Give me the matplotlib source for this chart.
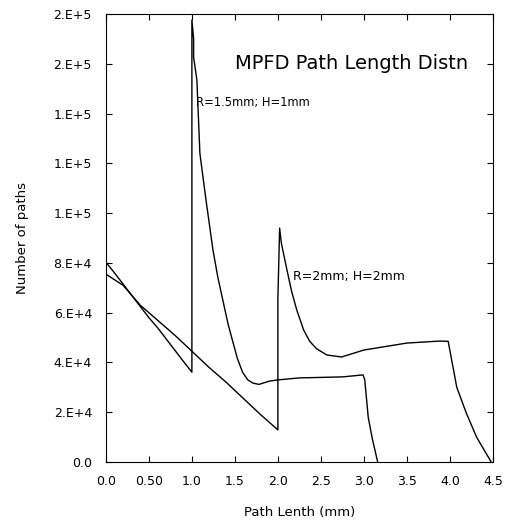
import matplotlib
matplotlib.use("Agg")
import matplotlib.pyplot as plt
from matplotlib.ticker import FixedLocator, FixedFormatter

# R=1.5mm; H=1mm
x_small = [0.0, 0.1, 0.2, 0.3, 0.4, 0.5, 0.6, 0.7, 0.8, 0.9, 1.0,
           1.0, 1.02, 1.02, 1.058, 1.093, 1.163, 1.245, 1.3, 1.36, 1.42, 1.48,
           1.53, 1.59, 1.65, 1.71, 1.78, 1.9, 2.0, 2.25, 2.5, 2.75, 2.99, 3.01,
           3.05, 3.1, 3.16]
y_small = [80300, 76000, 71500, 67000, 62500, 58000, 54000, 49500, 45000, 40500, 36100,
           177600, 170000, 162700, 153500, 124000, 105500, 85200, 74500, 65000, 55500, 47800,
           41500, 36000, 33000, 31700, 31200, 32500, 33000, 33800, 34000, 34200, 35000, 33000,
           18000, 9000, 0]

# R=2mm; H=2mm
x_big = [0.0, 0.2, 0.4, 0.6, 0.8, 1.0, 1.2, 1.4, 1.6, 1.8, 2.0,
         2.0, 2.02, 2.04, 2.10, 2.16, 2.22, 2.3, 2.37, 2.45, 2.57, 2.74, 3.0, 3.5,
         3.88, 3.98, 4.02, 4.08, 4.19, 4.31, 4.48]
y_big = [75500, 71000, 63000, 57000, 51000, 44500, 38000, 32000, 25500, 19000, 12900,
         65900, 94000, 88000, 78000, 68500, 61000, 53000, 48500, 45500, 43000, 42200, 45000, 47800,
         48600, 48500, 41000, 30000, 19700, 10000, 0]

x_ticks = [0.0, 0.5, 1.0, 1.5, 2.0, 2.5, 3.0, 3.5, 4.0, 4.5]
x_labels = ["0.0", "0.50", "1.0", "1.5", "2.0", "2.5", "3.0", "3.5", "4.0", "4.5"]
y_ticks = [0, 20000, 40000, 60000, 80000, 100000, 120000, 140000, 160000, 180000]
y_labels = ["0.0", "2.E+4", "4.E+4", "6.E+4", "8.E+4", "1.E+5", "1.E+5", "1.E+5", "2.E+5", "2.E+5"]

fig = plt.figure(figsize=(5.14, 5.2), dpi=100)
ax = fig.add_axes([0.206, 0.1115, 0.753, 0.8615])

ax.plot(x_small, y_small, color="black", lw=1.0)
ax.plot(x_big, y_big, color="black", lw=1.0)

ax.set_xlim(0, 4.5)
ax.set_ylim(0, 180000)
ax.xaxis.set_major_locator(FixedLocator(x_ticks))
ax.xaxis.set_major_formatter(FixedFormatter(x_labels))
ax.yaxis.set_major_locator(FixedLocator(y_ticks))
ax.yaxis.set_major_formatter(FixedFormatter(y_labels))
ax.tick_params(direction="in", top=True, right=True, length=4, width=0.8,
               labelsize=9)
ax.tick_params(axis="x", pad=9)
ax.tick_params(axis="y", pad=10)

ax.set_xlabel("Path Lenth (mm)", fontsize=9.5, labelpad=13)
ax.set_ylabel("Number of paths", fontsize=9.5, labelpad=18)

ax.text(1.5, 158000, "MPFD Path Length Distn", fontsize=14)
ax.text(1.05, 143000, "R=1.5mm; H=1mm", fontsize=8.3)
ax.text(2.17, 73000, "R=2mm; H=2mm", fontsize=9)

fig.savefig("out.png", dpi=100)
